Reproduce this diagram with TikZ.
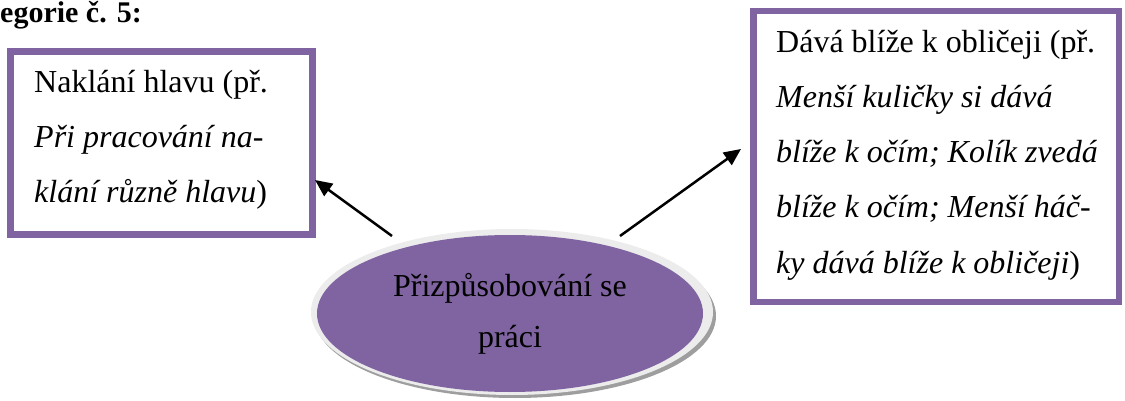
\documentclass[tikz,border=0pt]{standalone}
\usepackage{fontspec}
\setmainfont{Liberation Serif}
\usetikzlibrary{arrows.meta,shapes.geometric}
\definecolor{frame}{HTML}{8064A2}
\definecolor{rim}{HTML}{ECECEC}
\definecolor{shade}{HTML}{9E9E9E}
\begin{document}
\begin{tikzpicture}[x=1pt,y=-1pt,
  catbox/.style={draw=frame,line width=7pt,rectangle,inner sep=0pt,fill=white},
  txt/.style={anchor=base west,inner sep=0pt,font=\fontsize{32}{40}\selectfont},
  ctxt/.style={anchor=base,inner sep=0pt,font=\fontsize{32}{40}\selectfont},
  arr/.style={line width=2.5pt,-{Triangle[length=17pt,width=15pt]}}]
\useasboundingbox (0,0) rectangle (1125,401);

% heading
\node[anchor=base west,inner sep=0pt,font=\fontsize{30}{36}\selectfont\bfseries] (head) at (0,23) {egorie č. 5:};

% left box
\node[catbox,minimum width=302pt,minimum height=183pt] (lbox) at (161.5,143) {};
\node[txt] (l1) at (34,93) {Naklání hlavu (př.};
\node[txt] (l2) at (34,148) {\textit{Při pracování na-}};
\node[txt] (l3) at (34,202) {\textit{klání různě hlavu})};

% right box
\node[catbox,line width=6.5pt,minimum width=365.5pt,minimum height=290.5pt] (rbox) at (936,156.5) {};
\node[txt] (r1) at (776,53) {Dává blíže k obličeji (př.};
\node[txt] (r2) at (776,108) {\textit{Menší kuličky si dává}};
\node[txt] (r3) at (776,163) {\textit{blíže k očím; Kolík zvedá}};
\node[txt] (r4) at (776,218) {\textit{blíže k očím; Menší háč-}};
\node[txt] (r5) at (776,273) {\textit{ky dává blíže k obličeji})};

% central ellipse with bevel rim and drop shadow
\node[ellipse,fill=shade,minimum width=402pt,minimum height=164pt,inner sep=0pt] (eshadow) at (515,316) {};
\node[ellipse,fill=rim,minimum width=402pt,minimum height=166pt,inner sep=0pt] (erim) at (512,312) {};
\node[ellipse,fill=frame,minimum width=386pt,minimum height=157pt,inner sep=0pt] (core) at (510,313.5) {};
\node[ctxt] (c1) at (510,296) {Přizpůsobování se};
\node[ctxt] (c2) at (510,347) {práci};

% connectors
\coordinate (s1) at (392,236);
\coordinate (t1) at (315,180);
\coordinate (s2) at (620,236);
\coordinate (t2) at (741,149);
\draw[arr] (s1) -- (t1);
\draw[arr] (s2) -- (t2);
\end{tikzpicture}
\end{document}
